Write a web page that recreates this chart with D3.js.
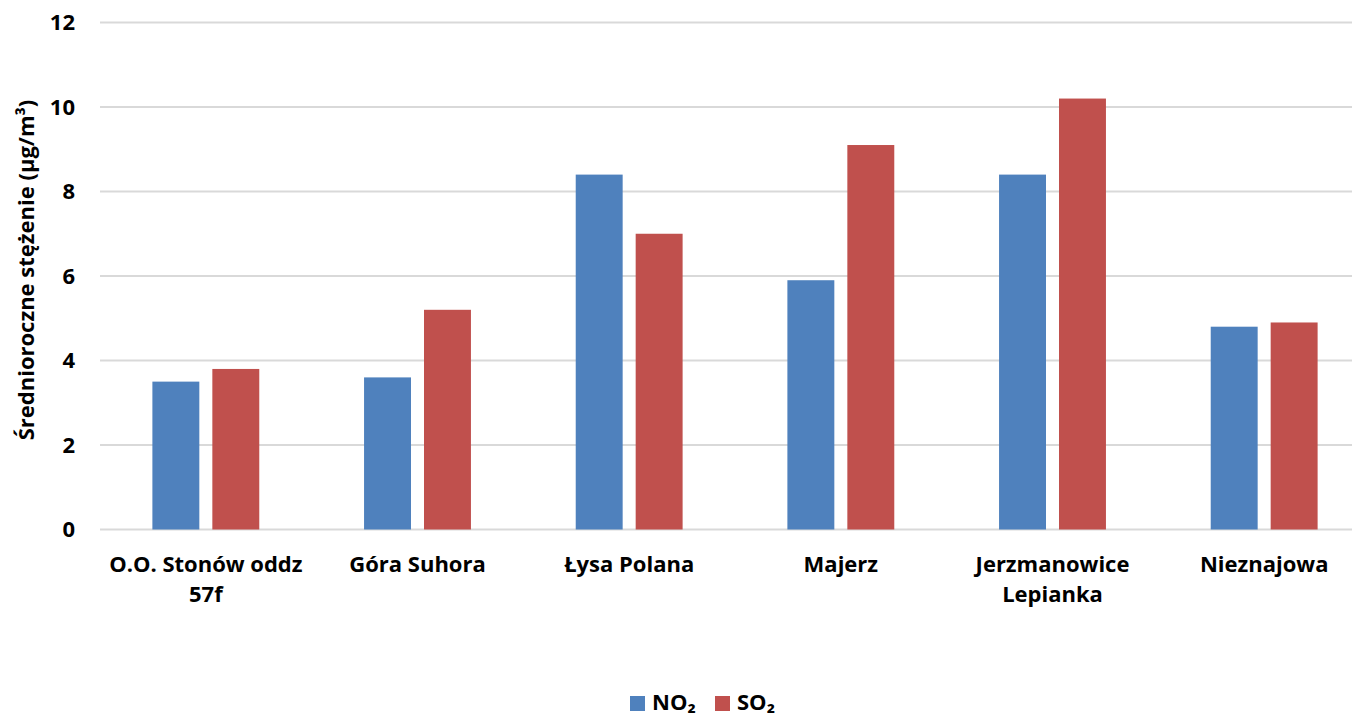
<!DOCTYPE html>
<html>
<head>
<meta charset="utf-8">
<script src="https://cdn.jsdelivr.net/npm/d3@7"></script>
<style>
  html, body { margin: 0; padding: 0; background: #fff; }
  svg { display: block; }
  text { font-family: "Open Sans", Lato, sans-serif; font-weight: bold; fill: #000; }
</style>
</head>
<body>
<svg id="chart" width="1352" height="715"></svg>
<script>
const categories = [["O.O. Stonów oddz", "57f"], ["Góra Suhora"], ["Łysa Polana"], ["Majerz"], ["Jerzmanowice", "Lepianka"], ["Nieznajowa"]];
const seriesNames = ["NO₂", "SO₂"];
const no2 = [3.5, 3.6, 8.4, 5.9, 8.4, 4.8];
const so2 = [3.8, 5.2, 7.0, 9.1, 10.2, 4.9];
const yTicks = [0, 2, 4, 6, 8, 10, 12];
const colors = ["#4F81BD", "#C0504D"];

const svg = d3.select("#chart");
const mLeft = 100, mRight = 1370, mTop = 22.5, mBottom = 529.5;

const x = d3.scaleBand().domain(d3.range(categories.length)).range([mLeft, mRight]).paddingInner(0).paddingOuter(0);
const y = d3.scaleLinear().domain([0, 12]).range([mBottom, mTop]);
const bw = x.bandwidth();
const x1 = d3.scaleBand().domain([0, 1]).range([bw * 0.2475, bw * 0.7525]).paddingInner(0.217);

// gridlines
svg.append("g").selectAll("line").data(yTicks).join("line")
  .attr("x1", mLeft).attr("x2", 1352)
  .attr("y1", d => y(d)).attr("y2", d => y(d))
  .attr("stroke", "#d9d9d9").attr("stroke-width", 2);

// y tick labels
const yAxis = d3.axisLeft(y).tickValues(yTicks).tickSize(0).tickPadding(0);
const ya = svg.append("g").attr("transform", `translate(${mLeft - 25},0)`).call(yAxis);
ya.select(".domain").remove();
ya.selectAll("text").attr("font-size", 22).attr("font-family", "'Open Sans', sans-serif").attr("font-weight", "bold").attr("fill", "#000");

// bars
const data = categories.map((c, i) => [no2[i], so2[i]]);
const groups = svg.append("g").selectAll("g").data(data).join("g")
  .attr("transform", (d, i) => `translate(${x(i)},0)`);
groups.selectAll("rect").data(d => d).join("rect")
  .attr("x", (d, j) => x1(j))
  .attr("width", x1.bandwidth())
  .attr("y", d => y(d))
  .attr("height", d => y(0) - y(d))
  .attr("fill", (d, j) => colors[j]);

// x labels
const xl = svg.append("g").selectAll("text").data(categories).join("text")
  .attr("text-anchor", "middle")
  .attr("font-size", 22)
  .attr("transform", (d, i) => `translate(${x(i) + bw / 2},572)`);
xl.selectAll("tspan").data(d => d).join("tspan")
  .attr("x", 0).attr("dy", (d, k) => k === 0 ? 0 : 30).text(d => d);

// y axis title
svg.append("text")
  .attr("transform", "translate(34,270) rotate(-90)")
  .attr("text-anchor", "middle")
  .attr("font-size", 22)
  .text("Średnioroczne stężenie (µg/m³)");

// legend
const legend = svg.append("g");
const legX = [630, 715];
seriesNames.forEach((n, i) => {
  legend.append("rect").attr("x", legX[i]).attr("y", 696).attr("width", 15).attr("height", 15).attr("fill", colors[i]);
  legend.append("text").attr("x", legX[i] + 22).attr("y", 710).attr("font-size", 22).text(n);
});
</script>
</body>
</html>
